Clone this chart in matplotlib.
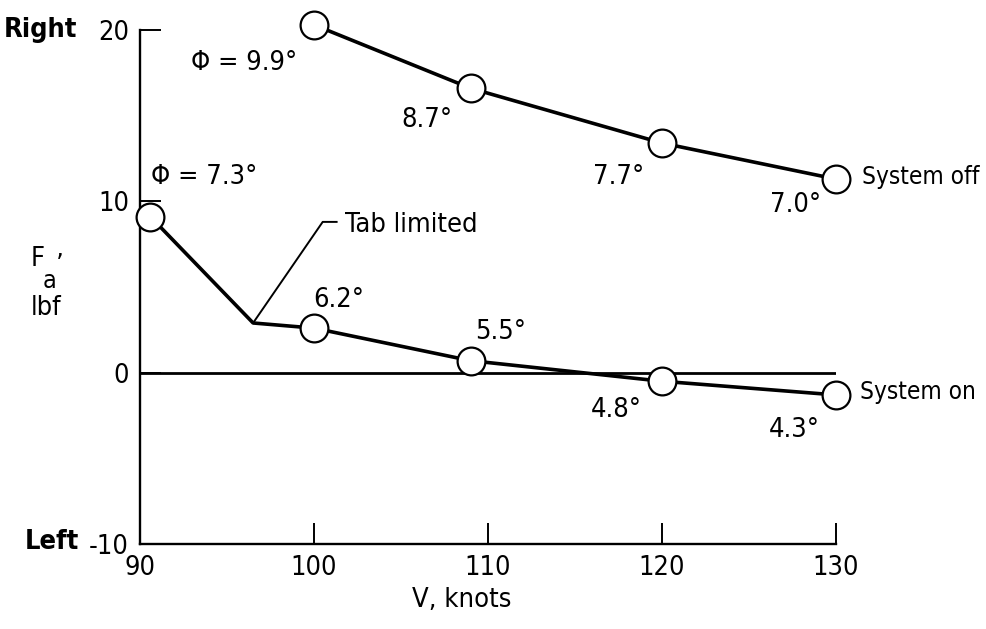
import matplotlib
matplotlib.use("Agg")
import matplotlib.pyplot as plt

# System off: roll angle labels at each point
off_v = [100, 109, 120, 130]
off_f = [20.3, 16.6, 13.4, 11.3]

# System on: knee at 96.5 knots is where the tab became limited
on_line_v = [90.6, 96.5, 100, 109, 120, 130]
on_line_f = [9.1, 2.9, 2.6, 0.7, -0.5, -1.3]
on_v = [90.6, 100, 109, 120, 130]
on_f = [9.1, 2.6, 0.7, -0.5, -1.3]

x_ticks = [90, 100, 110, 120, 130]
y_ticks = [-10, 0, 10, 20]

plt.rcParams['font.family'] = ['DejaVu Sans']
plt.rcParams['font.stretch'] = 'condensed'
plt.rcParams['font.size'] = 19.5

fig = plt.figure(figsize=(9.86, 6.29), dpi=100)
ax = fig.add_axes([140 / 986, 85 / 629, 696 / 986, 514 / 629])

ax.set_xlim(90, 130)
ax.set_ylim(-10, 20)
ax.spines['top'].set_visible(False)
ax.spines['right'].set_visible(False)
for s in ('left', 'bottom'):
    ax.spines[s].set_linewidth(1.7)
ax.set_xticks(x_ticks)
ax.set_yticks(y_ticks)
ax.set_yticklabels(['-10', '0', '10', '20'])
ax.tick_params(direction='in', length=15, width=1.4, pad=8, labelsize=19.5)

# zero reference line
ax.plot([90, 130], [0, 0], color='black', lw=2.0, zorder=2)

mk = dict(marker='o', markersize=20, markerfacecolor='white',
          markeredgecolor='black', markeredgewidth=1.6)
ax.plot(off_v, off_f, color='black', lw=2.6, zorder=3, clip_on=False)
ax.plot(off_v, off_f, ls='none', zorder=4, clip_on=False, **mk)
ax.plot(on_line_v, on_line_f, color='black', lw=2.6, zorder=3, clip_on=False)
ax.plot(on_v, on_f, ls='none', zorder=4, clip_on=False, **mk)

# leader for "Tab limited"
ax.plot([96.5, 100.5, 101.3], [2.9, 8.8, 8.8], color='black', lw=1.4, zorder=3)

ax.text(96.0, 18.1, 'Φ = 9.9°', ha='center', va='center')
ax.text(93.7, 11.4, 'Φ = 7.3°', ha='center', va='center')
ax.text(106.5, 14.75, '8.7°', ha='center', va='center')
ax.text(117.5, 11.4, '7.7°', ha='center', va='center')
ax.text(127.7, 9.8, '7.0°', ha='center', va='center')
ax.text(105.6, 8.6, 'Tab limited', ha='center', va='center')
ax.text(101.4, 4.25, '6.2°', ha='center', va='center')
ax.text(110.7, 2.4, '5.5°', ha='center', va='center')
ax.text(117.4, -2.2, '4.8°', ha='center', va='center')
ax.text(127.6, -3.35, '4.3°', ha='center', va='center')
ax.text(131.5, 11.4, 'System off', ha='left', va='center', clip_on=False, fontsize=17.5)
ax.text(131.4, -1.1, 'System on', ha='left', va='center', clip_on=False, fontsize=17.5)

fig.text(40 / 986, 1 - 30 / 629, 'Right', ha='center', va='center', fontweight='bold')
fig.text(52 / 986, 1 - 542 / 629, 'Left', ha='center', va='center', fontweight='bold')
fig.text(31 / 986, 1 - 259 / 629, 'F', ha='left', va='center')
fig.text(43 / 986, 1 - 281 / 629, 'a', ha='left', va='center', fontsize=18)
fig.text(56 / 986, 1 - 266 / 629, '’', ha='left', va='center')
fig.text(31 / 986, 1 - 308 / 629, 'lbf', ha='left', va='center')
fig.text(462 / 986, 1 - 600 / 629, 'V, knots', ha='center', va='center')

fig.savefig('out.png', dpi=100)
